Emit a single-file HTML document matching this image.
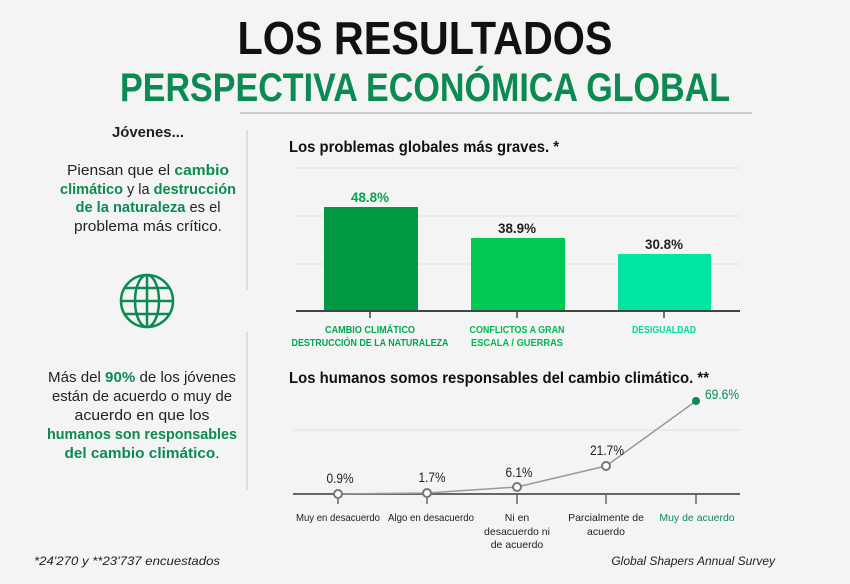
<!DOCTYPE html>
<html><head><meta charset="utf-8"><style>
body{margin:0;background:#f4f4f4;}
svg{display:block;font-family:"Liberation Sans",sans-serif;}
</style></head><body>
<svg width="850" height="584" viewBox="0 0 850 584">
<rect width="850" height="584" fill="#f4f4f4"/>
<text x="425" y="54" text-anchor="middle" font-size="46" font-weight="bold" fill="#111" textLength="375" lengthAdjust="spacingAndGlyphs">LOS RESULTADOS</text>
<text x="425" y="101" text-anchor="middle" font-size="40" font-weight="bold" fill="#0b8a52" textLength="610" lengthAdjust="spacingAndGlyphs">PERSPECTIVA ECONÓMICA GLOBAL</text>
<line x1="240" y1="113" x2="752" y2="113" stroke="#ccc" stroke-width="2"/>
<line x1="247" y1="130" x2="247" y2="290" stroke="#ddd" stroke-width="2"/>
<line x1="247" y1="332" x2="247" y2="490" stroke="#ddd" stroke-width="2"/>
<g font-size="15" text-anchor="middle" fill="#222">
<text x="148" y="137" font-weight="bold" font-size="15" textLength="72" lengthAdjust="spacingAndGlyphs">Jóvenes...</text>
<text x="148" y="175" textLength="162" lengthAdjust="spacingAndGlyphs">Piensan que el <tspan fill="#0b8a52" font-weight="bold">cambio</tspan></text>
<text x="148" y="194" textLength="176" lengthAdjust="spacingAndGlyphs"><tspan fill="#0b8a52" font-weight="bold">climático</tspan> y la <tspan fill="#0b8a52" font-weight="bold">destrucción</tspan></text>
<text x="148" y="212" textLength="145" lengthAdjust="spacingAndGlyphs"><tspan fill="#0b8a52" font-weight="bold">de la naturaleza</tspan> es el</text>
<text x="148" y="231" textLength="148" lengthAdjust="spacingAndGlyphs">problema más crítico.</text>
<text x="142" y="382" textLength="188" lengthAdjust="spacingAndGlyphs">Más del <tspan fill="#0b8a52" font-weight="bold">90%</tspan> de los jóvenes</text>
<text x="142" y="401" textLength="180" lengthAdjust="spacingAndGlyphs">están de acuerdo o muy de</text>
<text x="142" y="420" textLength="135" lengthAdjust="spacingAndGlyphs">acuerdo en que los</text>
<text x="142" y="439" textLength="190" lengthAdjust="spacingAndGlyphs"><tspan fill="#0b8a52" font-weight="bold">humanos son responsables</tspan></text>
<text x="142" y="458" textLength="155" lengthAdjust="spacingAndGlyphs"><tspan fill="#0b8a52" font-weight="bold">del cambio climático</tspan>.</text>
</g>
<g stroke="#0b8a52" stroke-width="2.5" fill="none">
<circle cx="147" cy="301" r="26"/>
<ellipse cx="147" cy="301" rx="12" ry="26"/>
<line x1="147" y1="275" x2="147" y2="327"/>
<line x1="121" y1="301" x2="173" y2="301"/>
<line x1="124" y1="288" x2="170" y2="288"/>
<line x1="124" y1="314" x2="170" y2="314"/>
</g>
<text x="289" y="152" font-size="16" font-weight="bold" fill="#111" textLength="270" lengthAdjust="spacingAndGlyphs">Los problemas globales más graves. *</text>
<g stroke="#e6e6e6" stroke-width="1.5">
<line x1="296" y1="168" x2="740" y2="168"/><line x1="296" y1="216" x2="740" y2="216"/><line x1="296" y1="264" x2="740" y2="264"/>
</g>
<rect x="324" y="207" width="94" height="104" fill="#009944"/>
<rect x="471" y="238" width="94" height="73" fill="#00c853"/>
<rect x="618" y="254" width="93" height="57" fill="#00e5a0"/>
<line x1="296" y1="311" x2="740" y2="311" stroke="#444" stroke-width="2"/>
<g stroke="#444" stroke-width="1.5"><line x1="370" y1="311" x2="370" y2="318"/><line x1="517" y1="311" x2="517" y2="318"/><line x1="664" y1="311" x2="664" y2="318"/></g>
<g font-size="14" font-weight="bold" text-anchor="middle">
<text x="370" y="202" fill="#00a64f" textLength="38" lengthAdjust="spacingAndGlyphs">48.8%</text>
<text x="517" y="233" fill="#222" textLength="38" lengthAdjust="spacingAndGlyphs">38.9%</text>
<text x="664" y="249" fill="#222" textLength="38" lengthAdjust="spacingAndGlyphs">30.8%</text>
</g>
<g font-size="10" font-weight="bold" text-anchor="middle">
<text x="370" y="333" fill="#00a64f" textLength="90" lengthAdjust="spacingAndGlyphs">CAMBIO CLIMÁTICO</text>
<text x="370" y="346" fill="#00a64f" textLength="157" lengthAdjust="spacingAndGlyphs">DESTRUCCIÓN DE LA NATURALEZA</text>
<text x="517" y="333" fill="#00b850" textLength="95" lengthAdjust="spacingAndGlyphs">CONFLICTOS A GRAN</text>
<text x="517" y="346" fill="#00b850" textLength="92" lengthAdjust="spacingAndGlyphs">ESCALA / GUERRAS</text>
<text x="664" y="333" fill="#00d9a0" textLength="64" lengthAdjust="spacingAndGlyphs">DESIGUALDAD</text>
</g>
<text x="289" y="383" font-size="16" font-weight="bold" fill="#111" textLength="420" lengthAdjust="spacingAndGlyphs">Los humanos somos responsables del cambio climático. **</text>
<line x1="293" y1="430" x2="740" y2="430" stroke="#e6e6e6" stroke-width="1.5"/>
<line x1="293" y1="494" x2="740" y2="494" stroke="#666" stroke-width="2"/>
<g stroke="#666" stroke-width="1.5"><line x1="338" y1="494" x2="338" y2="504"/><line x1="427" y1="494" x2="427" y2="504"/><line x1="517" y1="494" x2="517" y2="504"/><line x1="606" y1="494" x2="606" y2="504"/><line x1="696" y1="494" x2="696" y2="504"/></g>
<polyline points="338,494 427,493 517,487 606,466 696,401" fill="none" stroke="#999" stroke-width="1.5"/>
<g fill="#fff" stroke="#777" stroke-width="2">
<circle cx="338" cy="494" r="4"/><circle cx="427" cy="493" r="4"/><circle cx="517" cy="487" r="4"/><circle cx="606" cy="466" r="4"/>
</g>
<circle cx="696" cy="401" r="4" fill="#0b8a52"/>
<g font-size="14" fill="#222" text-anchor="middle">
<text x="340" y="483" textLength="27" lengthAdjust="spacingAndGlyphs">0.9%</text><text x="432" y="482" textLength="27" lengthAdjust="spacingAndGlyphs">1.7%</text><text x="519" y="477" textLength="27" lengthAdjust="spacingAndGlyphs">6.1%</text><text x="607" y="455" textLength="34" lengthAdjust="spacingAndGlyphs">21.7%</text>
<text x="722" y="399" fill="#0b8a52" textLength="34" lengthAdjust="spacingAndGlyphs">69.6%</text>
</g>
<g font-size="10.5" fill="#222" text-anchor="middle">
<text x="338" y="521" textLength="84" lengthAdjust="spacingAndGlyphs">Muy en desacuerdo</text>
<text x="431" y="521" textLength="86" lengthAdjust="spacingAndGlyphs">Algo en desacuerdo</text>
<text x="517" y="521">Ni en</text><text x="517" y="535">desacuerdo ni</text><text x="517" y="548">de acuerdo</text>
<text x="606" y="521">Parcialmente de</text><text x="606" y="535">acuerdo</text>
<text x="697" y="521" fill="#0b8a52">Muy de acuerdo</text>
</g>
<text x="34" y="565" font-size="12" font-style="italic" fill="#222" textLength="186" lengthAdjust="spacingAndGlyphs">*24'270 y **23'737 encuestados</text>
<text x="775" y="565" font-size="12" font-style="italic" fill="#222" text-anchor="end">Global Shapers Annual Survey</text>
</svg>
</body></html>
